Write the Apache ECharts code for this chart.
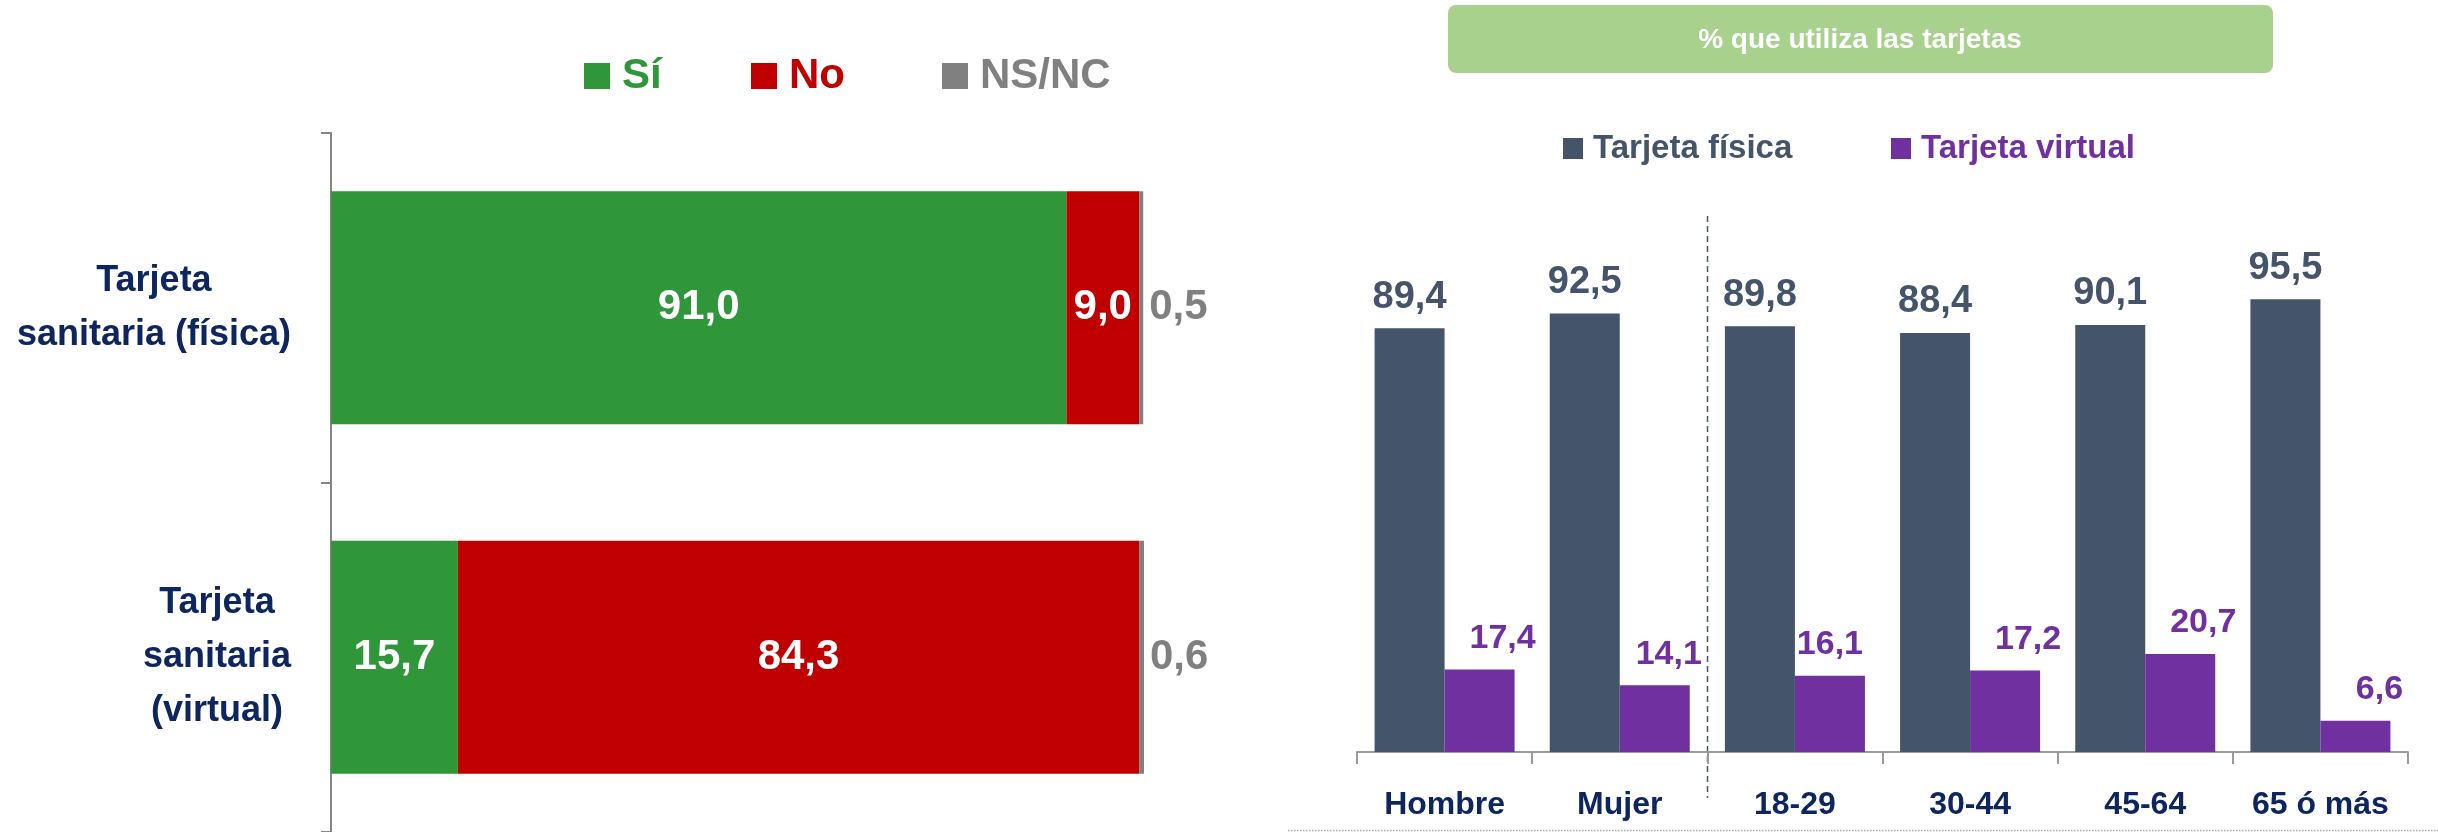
<!DOCTYPE html>
<html>
<head>
<meta charset="utf-8">
<script src="https://cdn.jsdelivr.net/npm/echarts@6/dist/echarts.min.js"></script>
<style>
html,body{margin:0;padding:0;background:#fff;}
#c{width:2438px;height:832px;}
</style>
</head>
<body>
<div id="c"></div>
<script>
// ---- Data ----
const leftCategories = ['Tarjeta\nsanitaria (física)', 'Tarjeta\nsanitaria\n(virtual)'];
const leftSeriesNames = ['Sí', 'No', 'NS/NC'];
const siValues = [91.0, 15.7];
const noValues = [9.0, 84.3];
const nsncValues = [0.5, 0.6];

const rightTitle = '% que utiliza las tarjetas';
const rightCategories = ['Hombre', 'Mujer', '18-29', '30-44', '45-64', '65 ó más'];
const rightSeriesNames = ['Tarjeta física', 'Tarjeta virtual'];
const fisicaValues = [89.4, 92.5, 89.8, 88.4, 90.1, 95.5];
const virtualValues = [17.4, 14.1, 16.1, 17.2, 20.7, 6.6];

// ---- Styles (kept apart from data) ----
const FONT = 'Liberation Sans';
const NAVY = '#0e2660';
const GREEN = '#2f963a';
const RED = '#c00000';
const GRAY = '#808080';
const SLATE = '#44546a';
const PURPLE = '#7030a0';
const leftLegendLefts = [584, 751, 942];
const leftColors = [GREEN, RED, GRAY];
const rightLegendLefts = [1563, 1891];
const rightColors = [SLATE, PURPLE];
const virtualLabelShiftX = [23, 14, 0, 23, 23, 24];
const pfmt = p => p.value.toFixed(1).replace('.', ',');

const chart = echarts.init(document.getElementById('c'));

const legends = [];
leftSeriesNames.forEach((n, i) => legends.push({
  left: leftLegendLefts[i], top: 55, padding: 0,
  itemWidth: 26, itemHeight: 26, icon: 'rect',
  textStyle: { fontSize: 42, fontWeight: 'bold', fontFamily: FONT, color: leftColors[i], padding: [0, 0, 0, 7] },
  data: [n]
}));
rightSeriesNames.forEach((n, i) => legends.push({
  left: rightLegendLefts[i], top: 132, padding: 0,
  itemWidth: 20, itemHeight: 21, icon: 'rect',
  textStyle: { fontSize: 33, fontWeight: 'bold', fontFamily: FONT, color: rightColors[i], padding: [0, 0, 0, 5] },
  data: [n]
}));

const leftData = [siValues, noValues, nsncValues];
const leftSeries = leftSeriesNames.map((n, i) => ({
  name: n, type: 'bar', stack: 'l', xAxisIndex: 0, yAxisIndex: 0, data: leftData[i],
  barWidth: 233, itemStyle: { color: leftColors[i] },
  label: i < 2
    ? { show: true, position: 'inside', color: '#fff', fontSize: 42, fontWeight: 'bold', fontFamily: FONT, formatter: pfmt }
    : { show: true, position: 'right', distance: 6, color: GRAY, fontSize: 42, fontWeight: 'bold', fontFamily: FONT, formatter: pfmt }
}));

const option = {
  animation: false,
  backgroundColor: '#ffffff',
  textStyle: { fontFamily: FONT },
  legend: legends,
  grid: [
    { left: 331, top: 133, width: 813, height: 700 },
    { left: 1357, top: 278, width: 1051, height: 474 }
  ],
  xAxis: [
    { gridIndex: 0, type: 'value', min: 0, max: 100.6, show: false },
    {
      gridIndex: 1, type: 'category', data: rightCategories,
      axisLine: { lineStyle: { color: '#9a9a9a', width: 2 } },
      axisTick: { show: true, length: 12, lineStyle: { color: '#9a9a9a', width: 2 } },
      axisLabel: { margin: 37, fontSize: 32, fontWeight: 'bold', color: NAVY, fontFamily: FONT, interval: 0 }
    }
  ],
  yAxis: [
    {
      gridIndex: 0, type: 'category', data: leftCategories, inverse: true,
      axisLine: { lineStyle: { color: '#868686', width: 2 } },
      axisTick: { show: true, length: 10, lineStyle: { color: '#868686', width: 2 } },
      axisLabel: {
        margin: 40, align: 'right',
        formatter: v => v.split('\n').map(l => '{c|' + l + '}').join('\n'),
        rich: { c: { align: 'center', fontSize: 36, fontWeight: 'bold', color: NAVY, fontFamily: FONT, lineHeight: 54 } }
      }
    },
    { gridIndex: 1, type: 'value', min: 0, max: 100, show: false }
  ],
  series: leftSeries.concat([
    {
      name: rightSeriesNames[0], type: 'bar', xAxisIndex: 1, yAxisIndex: 1, data: fisicaValues,
      barWidth: 70, barGap: '0%', itemStyle: { color: SLATE },
      label: { show: true, position: 'top', distance: 12, color: SLATE, fontSize: 38, fontWeight: 'bold', fontFamily: FONT, formatter: pfmt }
    },
    {
      name: rightSeriesNames[1], type: 'bar', xAxisIndex: 1, yAxisIndex: 1,
      data: virtualValues.map((v, i) => ({ value: v, label: { offset: [virtualLabelShiftX[i], 0] } })),
      barWidth: 70, barGap: '0%', itemStyle: { color: PURPLE },
      label: { show: true, position: 'top', distance: 14, color: PURPLE, fontSize: 34, fontWeight: 'bold', fontFamily: FONT, formatter: pfmt }
    }
  ])
};
chart.setOption(option);

// Decorations: title box, dashed separator between sex and age groups, bottom dotted rule
const cMujer = chart.convertToPixel({ xAxisIndex: 1 }, 'Mujer');
const c1829 = chart.convertToPixel({ xAxisIndex: 1 }, '18-29');
const sepX = Math.round((cMujer + c1829) / 2) + 0.5;
chart.setOption({
  graphic: [
    {
      type: 'rect', shape: { x: 1448, y: 5, width: 825, height: 68, r: 8 },
      style: { fill: '#a9d18e' }
    },
    {
      type: 'text', x: 1860, y: 40,
      style: { text: rightTitle, fill: '#ffffff', font: 'bold 28px "' + FONT + '"', align: 'center', verticalAlign: 'middle' }
    },
    {
      type: 'line', shape: { x1: sepX, y1: 216, x2: sepX, y2: 798 },
      style: { stroke: SLATE, lineWidth: 1.5, lineDash: [6, 4] }
    },
    {
      type: 'line', shape: { x1: 1288, y1: 830.5, x2: 2438, y2: 830.5 },
      style: { stroke: '#a6a6a6', lineWidth: 1.5, lineDash: [1.5, 1.5] }
    }
  ]
});
</script>
</body>
</html>
